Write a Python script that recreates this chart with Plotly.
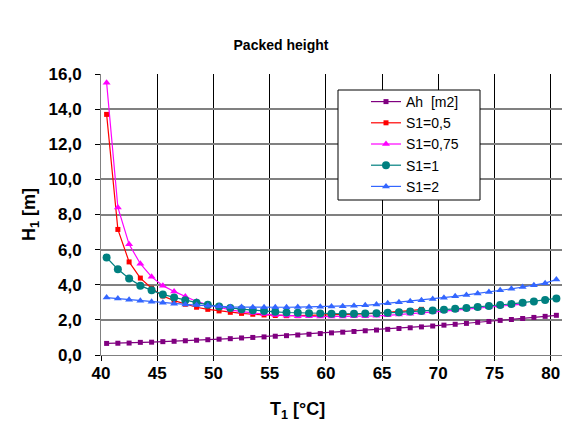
import plotly.graph_objects as go

# ---- data ----
T = [40.5 + i for i in range(41)]

ah = [0.66, 0.67, 0.68, 0.72, 0.73, 0.76, 0.78, 0.81, 0.84, 0.87, 0.90, 0.93, 0.97, 1.00,
      1.03, 1.07, 1.10, 1.14, 1.18, 1.22, 1.26, 1.30, 1.34, 1.38, 1.42, 1.46, 1.51, 1.55,
      1.60, 1.65, 1.70, 1.75, 1.80, 1.86, 1.91, 1.97, 2.02, 2.08, 2.14, 2.20, 2.26]

s05 = [13.7, 7.15, 5.30, 4.38, 3.80, 3.36, 3.10, 2.89, 2.72, 2.60, 2.51, 2.43, 2.37, 2.32,
       2.28, 2.25, 2.24, 2.24, 2.25, 2.26, 2.27, 2.29, 2.31, 2.34, 2.38, 2.42, 2.47, 2.53, 2.60]

s075 = [15.5, 8.40, 6.30, 5.20, 4.45, 3.95, 3.62, 3.33, 3.05, 2.86, 2.70, 2.57, 2.47, 2.39,
        2.33, 2.28, 2.24, 2.21, 2.20, 2.19, 2.19, 2.19, 2.20, 2.21, 2.23, 2.26, 2.30, 2.35,
        2.40, 2.45, 2.50, 2.55, 2.60, 2.66, 2.72, 2.78, 2.84, 2.90]

s1 = [5.55, 4.88, 4.36, 3.95, 3.68, 3.45, 3.28, 3.12, 2.98, 2.86, 2.76, 2.68, 2.61, 2.55,
      2.50, 2.46, 2.42, 2.40, 2.38, 2.36, 2.35, 2.35, 2.35, 2.36, 2.38, 2.40, 2.43, 2.47,
      2.50, 2.54, 2.58, 2.63, 2.68, 2.73, 2.79, 2.85, 2.91, 2.98, 3.05, 3.13, 3.22]

s2 = [3.27, 3.21, 3.15, 3.09, 3.03, 2.97, 2.92, 2.88, 2.84, 2.80, 2.77, 2.74, 2.73, 2.72,
      2.72, 2.72, 2.72, 2.73, 2.74, 2.75, 2.76, 2.78, 2.80, 2.83, 2.88, 2.94, 3.00, 3.06,
      3.12, 3.19, 3.26, 3.34, 3.42, 3.50, 3.59, 3.68, 3.77, 3.87, 3.97, 4.09, 4.30]

names = ["Ah \u00a0[m2]", "S1=0,5", "S1=0,75", "S1=1", "S1=2"]
y_ticks = [0, 2, 4, 6, 8, 10, 12, 14, 16]
x_ticks = [40, 45, 50, 55, 60, 65, 70, 75, 80]

FONT = "Liberation Sans, Arial, sans-serif"

series = [
    (names[0], ah, "#800080", "square", 5),
    (names[1], s05, "#FF0000", "square", 5),
    (names[2], s075, "#FF00FF", "triangle-up", 7),
    (names[3], s1, "#008080", "circle", 8),
    (names[4], s2, "#3366FF", "triangle-up", 7),
]

fig = go.Figure()
for i, (nm, ys, col, sym, sz) in enumerate(series):
    fig.add_trace(go.Scatter(
        x=T[:len(ys)], y=ys, name=nm, mode="lines+markers",
        line=dict(color=col, width=1.2),
        marker=dict(color=col, symbol=sym, size=sz),
        legendgroup="g%d" % i,
    ))

W, H = 574, 432
L, R, TOP, BOT = 101, 12, 74, 77
pw, ph = W - L - R, H - TOP - BOT

def px_x(p):
    return (p - L) / pw

def px_y(p):
    return (H - BOT - p) / ph

fig.add_shape(type="rect", xref="paper", yref="paper",
              x0=px_x(338), x1=px_x(480), y0=px_y(200), y1=px_y(90),
              line=dict(color="black", width=1), fillcolor="white", layer="above")

fig.add_annotation(text="<b>T<sub>1</sub> [°C]</b>", xref="paper", yref="paper",
                   x=px_x(297), y=px_y(410), showarrow=False,
                   xanchor="center", yanchor="middle",
                   font=dict(size=18, family=FONT, color="black"))
fig.add_annotation(text="<b>H<sub>1</sub> [m]</b>", xref="paper", yref="paper",
                   x=px_x(30), y=px_y(215), showarrow=False, textangle=-90,
                   xanchor="center", yanchor="middle",
                   font=dict(size=18, family=FONT, color="black"))

fig.update_layout(
    width=W, height=H,
    margin=dict(l=L, r=R, t=TOP, b=BOT),
    paper_bgcolor="white", plot_bgcolor="white",
    separators=",.",
    font=dict(family=FONT, color="black"),
    title=dict(text="<b>Packed height</b>", x=281 / W, xanchor="center",
               y=1 - 45 / H, yanchor="middle", font=dict(size=14, family=FONT)),
    showlegend=True,
    legend=dict(x=px_x(366), xanchor="left", y=px_y(86), yanchor="top",
                bgcolor="rgba(0,0,0,0)", borderwidth=0,
                font=dict(size=14, family=FONT),
                traceorder="grouped", tracegroupgap=0,
                itemwidth=30),
    xaxis=dict(range=[40, 81], tickvals=x_ticks, ticktext=[str(v) for v in x_ticks],
               showgrid=True, gridcolor="#000000", gridwidth=1,
               showline=True, linecolor="#808080", linewidth=1,
               ticks="outside", ticklen=5, tickcolor="#000000",
               ticklabelstandoff=-2,
               tickfont=dict(size=17, family=FONT, weight="bold"),
               zeroline=False),
    yaxis=dict(range=[0, 16], tickvals=y_ticks, tickformat=".1f",
               showgrid=True, gridcolor="#808080", gridwidth=1.5,
               showline=True, linecolor="#808080", linewidth=1,
               ticks="outside", ticklen=5, tickcolor="#000000",
               ticklabelstandoff=10,
               tickfont=dict(size=17, family=FONT, weight="bold"),
               zeroline=False),
)

fig.write_html("out.html", config={"displayModeBar": False},
               post_script="document.body.style.margin='0px';")
